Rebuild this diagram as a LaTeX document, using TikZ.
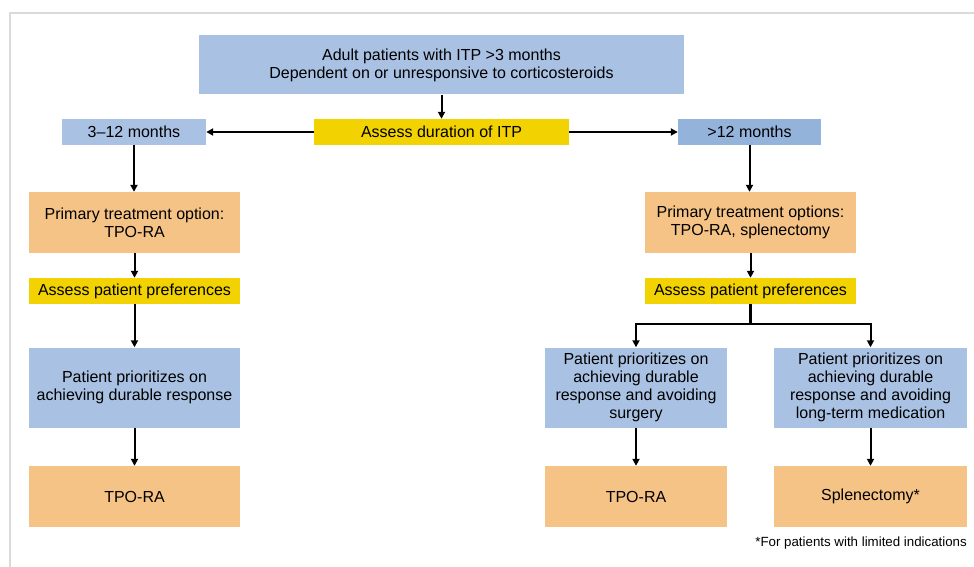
\documentclass[tikz,border=0pt]{standalone}
\usepackage{fontspec}
\setmainfont{Liberation Sans}
\usepackage{tikz}
\usetikzlibrary{positioning,arrows.meta,calc}
\definecolor{paleblue}{HTML}{A9C2E3}
\definecolor{midblue}{HTML}{94B3DB}
\definecolor{peach}{HTML}{F6C387}
\definecolor{gold}{HTML}{F2D200}
\definecolor{framegrey}{HTML}{DADADA}
\tikzset{
  box/.style={rectangle, draw=none, fill=#1, align=center, inner sep=2pt,
              font=\fontsize{16}{18}\selectfont, text=black},
  ar/.style={-{Triangle[length=7pt,width=7pt]}, line width=2pt, draw=black},
  ln/.style={line width=2pt, draw=black},
  note/.style={font=\fontsize{13.3}{16}\selectfont, inner sep=0pt},
}

\begin{document}
\begin{tikzpicture}[x=1pt, y=-1pt]
  \useasboundingbox (0,0) rectangle (974,567);
  \draw[framegrey, line width=2pt] (10,620) |- (1020,13);

  % top of the chart
  \node[box=paleblue, minimum width=485pt, minimum height=59pt] (adult) at (441.5,65)
       {Adult patients with ITP >3 months\\Dependent on or unresponsive to corticosteroids};
  \node[box=gold, minimum width=255pt, minimum height=26pt] (dur) at (441.5,132) {Assess duration of ITP};
  \node[box=paleblue, minimum width=144pt, minimum height=26pt] (short) at (134,132) {3\textendash12 months};
  \node[box=midblue, minimum width=143pt, minimum height=26pt] (long) at (749.5,132) {>12 months};

  % left branch
  \node[box=peach, minimum width=211pt, minimum height=61pt] (optL) at (134.5,222.5)
       {Primary treatment option:\\TPO-RA};
  \node[box=gold, minimum width=211pt, minimum height=26pt] (prefL) at (134.5,291) {Assess patient preferences};
  \node[box=paleblue, minimum width=211pt, minimum height=80pt] (prioL) at (134.5,387.5)
       {Patient prioritizes on\\achieving durable response};
  \node[box=peach, minimum width=211pt, minimum height=61pt] (tpoL) at (134.5,496.5) {TPO-RA};

  % right branch
  \node[box=peach, minimum width=211pt, minimum height=61pt] (optR) at (750.5,222.5)
       {Primary treatment options:\\TPO-RA, splenectomy};
  \node[box=gold, minimum width=211pt, minimum height=26pt] (prefR) at (750.5,291) {Assess patient preferences};
  \node[box=paleblue, minimum width=182pt, minimum height=80pt] (prioA) at (636,387.5)
       {Patient prioritizes on\\achieving durable\\response and avoiding\\surgery};
  \node[box=paleblue, minimum width=193pt, minimum height=80pt] (prioB) at (870.5,387.5)
       {Patient prioritizes on\\achieving durable\\response and avoiding\\long-term medication};
  \node[box=peach, minimum width=182pt, minimum height=61pt] (tpoR) at (636,496.5) {TPO-RA};
  \node[box=peach, minimum width=193pt, minimum height=61pt] (splen) at (870.5,496.5) {Splenectomy*};
  \node[note, anchor=east] (fn) at (967,543) {*For patients with limited indications};

  \draw[ar] (adult) -- (dur);
  \draw[ar] (dur) -- (short);
  \draw[ar] (dur) -- (long);
  \draw[ar] (short.south) -- (short.south |- optL.north);
  \draw[ar] (optL) -- (prefL);
  \draw[ar] (prefL) -- (prioL);
  \draw[ar] (prioL) -- (tpoL);
  \draw[ar] (long.south) -- (long.south |- optR.north);
  \draw[ar] (optR) -- (prefR);
  \draw[ln, line width=3pt] (prefR.south) -- ++(0,20) coordinate (fork);
  \draw[ar] (fork) -| (prioA.north);
  \draw[ar] (fork) -| (prioB.north);
  \draw[ar] (prioA) -- (tpoR);
  \draw[ar] (prioB) -- (splen);
\end{tikzpicture}
\end{document}
